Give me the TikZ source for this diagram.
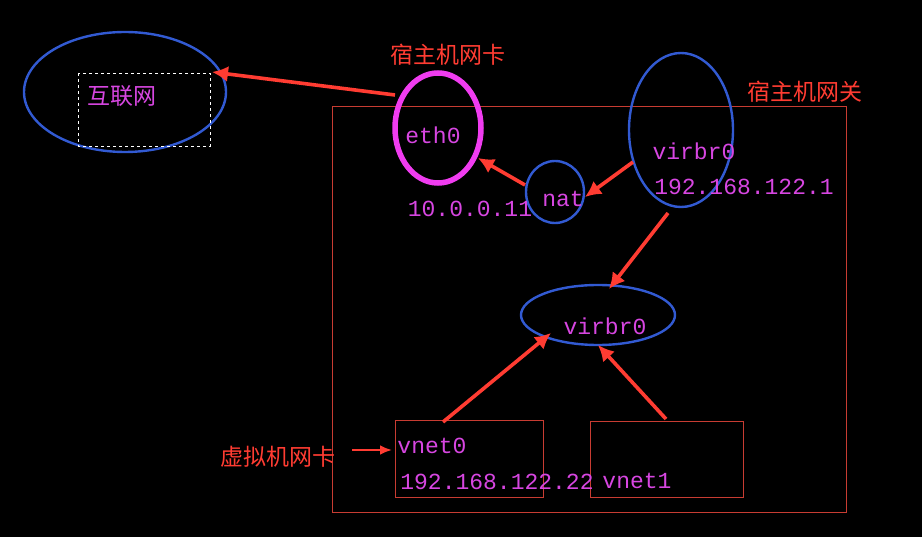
\documentclass[tikz,border=0pt]{standalone}
\usepackage{fontspec}
\setmonofont{Liberation Mono}
\newfontfamily\cjk{Noto Sans CJK SC}
\usetikzlibrary{arrows.meta,shapes.geometric}
\definecolor{bl}{RGB}{50,90,210}
\definecolor{rd}{RGB}{255,60,50}
\definecolor{mg}{RGB}{215,70,225}
\definecolor{pk}{RGB}{240,60,240}
\definecolor{br}{RGB}{200,60,50}
\begin{document}
\begin{tikzpicture}[x=1pt,y=-1pt,
  ell/.style={draw=bl,line width=2.4pt},
  lab/.style={text=mg,font=\ttfamily\fontsize{23}{23}\selectfont,inner sep=0pt},
  cn/.style={text=rd,font=\cjk\fontsize{23}{23}\selectfont,inner sep=0pt},
  arr/.style={draw=rd,line width=3.6pt,-{Latex[length=16pt,width=16pt]}},
  bx/.style={draw=br,line width=0.9pt}]
\fill[black] (0,0) rectangle (922,537);
\useasboundingbox (0,0) rectangle (922,537);
\draw[bx] (332,106) rectangle (846,512);
\node[ell,ellipse,minimum width=202pt,minimum height=120pt] (inet) at (125,92) {};
\draw[white,dashed,line width=0.8pt] (78,73) rectangle (210,146);
\coordinate (inetpt) at (212,72);
\node[inner sep=0pt,text=mg,font=\cjk\fontsize{23}{23}\selectfont] (inettx) at (122,96) {互联网};
\node[draw=pk,line width=5.5pt,ellipse,minimum width=86pt,minimum height=110pt] (eth) at (438,128) {};
\node[lab] (ethtx) at (433,135) {eth0};
\node[cn] (l1) at (448,55) {宿主机网卡};
\node[cn] (l2) at (805,92) {宿主机网关};
\node[cn] (l3) at (278,457) {虚拟机网卡};
\node[ell,ellipse,minimum width=58pt,minimum height=62pt] (nat) at (555,192) {};
\node[lab] (nattx) at (563,199) {nat};
\node[lab] (ip1) at (470,209) {10.0.0.11};
\node[ell,ellipse,minimum width=104pt,minimum height=154pt] (vb) at (681,130) {};
\node[lab] (vbtx) at (694,151) {virbr0};
\node[lab] (ip2) at (744,187) {192.168.122.1};
\node[ell,ellipse,minimum width=154pt,minimum height=60pt] (vb2) at (598,315) {};
\node[lab] (vb2tx) at (605,326) {virbr0};
\draw[bx] (395,420) rectangle (543,497);
\draw[bx] (590,421) rectangle (743,497);
\node[lab] (v0) at (432,446) {vnet0};
\node[lab] (ip3) at (497,482) {192.168.122.22};
\node[lab] (v1) at (637,481) {vnet1};
\coordinate (a1) at (395,95);
\coordinate (a2s) at (633,162); \coordinate (a2e) at (585,197);
\coordinate (a3s) at (525,185); \coordinate (a3e) at (478,158);
\coordinate (a4s) at (668,213); \coordinate (a4e) at (609,289);
\coordinate (a5s) at (443,422); \coordinate (a5e) at (551,333);
\coordinate (a6s) at (666,419); \coordinate (a6e) at (598,345);
\coordinate (a7s) at (352,450); \coordinate (a7e) at (392,450);
\draw[arr] (a1) -- (inetpt);
\draw[arr] (a2s) -- (a2e);
\draw[arr] (a3s) -- (a3e);
\draw[arr] (a4s) -- (a4e);
\draw[arr] (a5s) -- (a5e);
\draw[arr] (a6s) -- (a6e);
\draw[rd,line width=2.4pt,-{Latex[length=12pt,width=10pt]}] (a7s) -- (a7e);
\end{tikzpicture}
\end{document}
